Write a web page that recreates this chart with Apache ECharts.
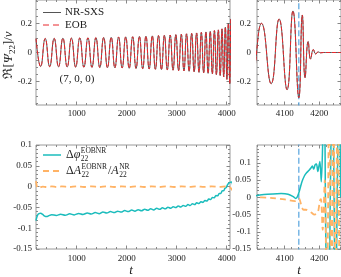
<!DOCTYPE html>
<html><head><meta charset="utf-8">
<script src="https://cdn.jsdelivr.net/npm/echarts@6/dist/echarts.min.js"></script>
<style>html,body{margin:0;padding:0;background:#fff}#c{width:341px;height:277px}</style>
</head><body><div id="c"></div>
<script>
// ---------- data ----------
// waveform Re[Psi22]/nu : times of successive extrema and their values (NR and EOB overlap)
const waveT = [187,279,370,460,549,637,724,810,895,979,1062,1144,1225,1305,1384,1462,1539,1615,1690,1764,
  1837,1909,1980,2050,2119,2187,2254,2320,2385,2449,2512,2574,2635,2695,2754,2812,2870,2927,2983,3038,
  3092,3145,3197,3248,3299,3349,3398,3446,3493,3539,3584,3628,3671,3713,3754,3794,3833,3870,3906,3940,
  3973,4004,4033,4061,4084,4107,4124,4141,4151,4159,4168,4175,4183,4190,4197,4204,4212,4235,4270];
const waveNR = [0.095,-0.096,0.096,-0.097,0.097,-0.098,0.098,-0.099,0.099,-0.100,0.100,-0.101,0.101,-0.102,0.102,-0.103,0.103,-0.104,0.104,-0.105,
  0.106,-0.106,0.107,-0.108,0.108,-0.109,0.110,-0.111,0.112,-0.113,0.114,-0.115,0.116,-0.117,0.118,-0.119,0.120,-0.121,0.122,-0.124,
  0.125,-0.126,0.128,-0.129,0.131,-0.132,0.134,-0.136,0.138,-0.139,0.141,-0.143,0.145,-0.147,0.150,-0.152,0.155,-0.158,0.162,-0.167,
  0.174,-0.184,0.200,-0.214,0.230,-0.255,0.285,-0.310,0.257,-0.172,0.075,-0.045,0.020,-0.010,0.004,-0.002,0,0,0];
const waveEOB = [0.095,-0.096,0.096,-0.097,0.097,-0.098,0.098,-0.099,0.099,-0.100,0.100,-0.101,0.101,-0.102,0.102,-0.103,0.103,-0.104,0.104,-0.105,
  0.106,-0.106,0.107,-0.108,0.108,-0.109,0.110,-0.111,0.112,-0.113,0.114,-0.115,0.116,-0.117,0.118,-0.119,0.120,-0.121,0.122,-0.124,
  0.125,-0.126,0.128,-0.129,0.131,-0.132,0.134,-0.136,0.138,-0.139,0.141,-0.143,0.145,-0.147,0.150,-0.152,0.155,-0.158,0.162,-0.167,
  0.174,-0.184,0.200,-0.214,0.230,-0.255,0.285,-0.310,0.257,-0.172,0.075,-0.045,0.020,-0.010,0.004,-0.002,0,0,0];
// phase difference
const dphiT = [186,195,215,245,280,320,360,400,440,500,590,680,770,860,950,1040,1125,1210,1290,1370,1450,1525,1600,1675,1750,1820,1890,1960,
  2030,2100,2165,2230,2295,2360,2420,2480,2540,2600,2660,2715,2770,2825,2880,2930,2980,3030,3080,3130,3180,3225,3270,3315,3360,3400,
  3445,3485,3525,3565,3605,3640,3680,3715,3750,3785,3820,3850,3880,3910,3940,3965,3990,4015,4040,4066,4090,4110,4125,4132,4137,4143,
  4150,4157,4164,4170,4176,4180,4184,4188,4192,4196,4199,4202,4206,4210,4214,4220,4227,4232,4238,4243,4247,4252,4257,4262];
const dphiV = [-0.082,-0.077,-0.069,-0.065,-0.064,-0.067,-0.071,-0.072,-0.070,-0.0675,-0.0695,-0.0665,-0.0690,-0.0655,-0.0680,-0.0645,-0.0670,-0.0635,-0.0660,-0.0625,-0.0650,-0.0610,-0.0635,-0.0600,-0.0625,-0.0590,-0.0612,-0.0577,
  -0.0600,-0.0565,-0.0590,-0.0555,-0.0580,-0.0545,-0.0570,-0.0535,-0.0560,-0.0522,-0.0547,-0.0510,-0.0535,-0.0497,-0.0520,-0.0482,-0.0505,-0.0468,-0.0490,-0.0452,-0.0473,-0.0433,-0.0455,-0.0412,-0.0433,-0.0390,
  -0.0408,-0.0362,-0.0380,-0.0332,-0.0348,-0.0298,-0.0312,-0.0260,-0.0270,-0.0215,-0.0222,-0.0165,-0.0165,-0.0105,-0.0100,-0.0040,-0.0025,0.004,0.008,0.010,0.011,0.009,0.002,-0.003,0.002,0.020,
  0.045,0.062,0.072,0.078,0.085,0.091,0.082,0.094,0.097,0.075,0.090,0.104,0.045,0.160,0.400,-0.200,-0.400,0.000,0.400,0.000,-0.400,0.000,0.400,0.000];
// relative amplitude difference
const dAT = [186,195,210,235,270,320,400,500,600,700,850,1000,1150,1300,1450,1600,1750,1900,2050,2200,2350,2500,2650,2800,2950,3100,3250,3400,3550,3700,3850,4000,
  4066,4100,4130,4138,4142,4146,4150,4155,4162,4170,4178,4186,4192,4197,4202,4205,4210,4216,4222,4229,4235,4241,4247,4253,4259];
const dAV = [0.013,0.006,-0.002,-0.004,-0.002,0.000,-0.001,0.0005,-0.001,0.0005,-0.001,0.0005,-0.001,0.0005,-0.001,0.0005,-0.001,0.0005,-0.001,0.0005,-0.001,0.0005,-0.001,0.0005,-0.001,0.0005,-0.0008,0.0005,-0.0008,0.0005,-0.0005,0.0008,
  -0.002,-0.006,-0.011,-0.008,-0.004,-0.015,-0.030,-0.036,-0.036,-0.040,-0.045,-0.050,-0.048,-0.040,-0.010,-0.005,-0.094,0.050,-0.350,0.300,-0.350,0.300,-0.350,0.350,-0.350];
// time of the amplitude peak (vertical marker) and its vertical extent
const peakT = [4141, 4141];
const peakV = [-1, 1];
// tick labels
const xTicksLong = [1000, 2000, 3000, 4000];
const xTicksZoom = [4100, 4200];
const yTicksWave = [-0.2, 0, 0.2];
const yTicksErr = [-0.15, -0.1, -0.05, 0, 0.05, 0.1];

// ---------- styling / layout ----------
const FONT = 'Liberation Serif';
const TXT = '#222', FRAME = '#9a9a9a', TICK = '#888';
const C_NR = '#555555', C_EOB = '#e8282d', C_PHI = '#1bbcbc', C_AMP = '#ffb366', C_PEAK = '#55a3de';

function pairs(t, v) { return t.map((x, i) => [x, v[i]]); }
function minorList(lo, hi, step, majorStep, scale) {
  const out = [];
  for (let k = Math.ceil(lo * scale / step); k * step <= hi * scale; k++) {
    const v = k * step;
    if (v % majorStep !== 0) out.push(v / scale);
  }
  return out;
}
function axes(dim, gi, min, max, majors, minors, margin) {
  const pos = dim === 'x' ? ['bottom', 'top'] : ['left', 'right'];
  const base = { type: 'value', gridIndex: gi, min: min, max: max, splitLine: { show: false },
    axisLine: { show: false, onZero: false } };
  const tick = (vals, len) => ({ show: true, inside: true, length: len, customValues: vals, lineStyle: { color: TICK, width: 1 } });
  return [
    Object.assign({}, base, { position: pos[0], axisTick: tick(majors, 3.5),
      axisLabel: { show: true, customValues: majors, margin: margin, fontFamily: FONT, fontSize: 9, color: TXT,
        formatter: v => String(v) } }),
    Object.assign({}, base, { position: pos[1], axisTick: tick(majors, 3.5), axisLabel: { show: false } }),
    Object.assign({}, base, { position: pos[0], axisTick: tick(minors, 2), axisLabel: { show: false } }),
    Object.assign({}, base, { position: pos[1], axisTick: tick(minors, 2), axisLabel: { show: false } })
  ];
}
const X = [[186, 4066], [4020, 4263], [186, 4066], [4020, 4263]];
const Y = [[-0.36, 0.36], [-0.36, 0.36], [-0.15, 0.1], [-0.15, 0.152]];
const xAxis = [].concat(
  axes('x', 0, X[0][0], X[0][1], xTicksLong, minorList(X[0][0], X[0][1], 200, 1000, 1), 4),
  axes('x', 1, X[1][0], X[1][1], xTicksZoom, minorList(X[1][0], X[1][1], 20, 100, 1), 4),
  axes('x', 2, X[2][0], X[2][1], xTicksLong, minorList(X[2][0], X[2][1], 200, 1000, 1), 5),
  axes('x', 3, X[3][0], X[3][1], xTicksZoom, minorList(X[3][0], X[3][1], 20, 100, 1), 5));
const yAxis = [].concat(
  axes('y', 0, Y[0][0], Y[0][1], yTicksWave, minorList(Y[0][0], Y[0][1], 5, 20, 100), 4),
  axes('y', 1, Y[1][0], Y[1][1], yTicksWave, minorList(Y[1][0], Y[1][1], 5, 20, 100), 6),
  axes('y', 2, Y[2][0], Y[2][1], yTicksErr, minorList(Y[2][0], Y[2][1], 1, 5, 100), 4),
  axes('y', 3, Y[3][0], Y[3][1], yTicksErr, minorList(Y[3][0], Y[3][1], 1, 5, 100), 6));

const grid = [
  { left: 36, top: 0, width: 194, height: 105 },
  { left: 257, top: 0, width: 85, height: 105 },
  { left: 36, top: 145, width: 194, height: 104 },
  { left: 257, top: 145, width: 85, height: 104 }
].map(g => Object.assign(g, { show: true, borderColor: FRAME, borderWidth: 1, backgroundColor: 'transparent' }));

function line(name, gi, data, color, width, dash, smooth, z) {
  return { type: 'line', name: name, xAxisIndex: gi * 4, yAxisIndex: gi * 4, data: data, color: color,
    symbol: 'none', showSymbol: false, smooth: smooth, clip: true, animation: false, z: z || 2,
    emphasis: { disabled: true },
    lineStyle: { color: color, width: width, type: dash || 'solid', opacity: 1 } };
}
const series = [];
series.push(line('peak', 1, pairs(peakT, peakV), C_PEAK, 1.2, [6, 3], false, 1));
[0, 1].forEach(g => {
  series.push(line('NR-SXS', g, pairs(waveT, waveNR), C_NR, 1, null, 0.5));
  series.push(line('EOB', g, pairs(waveT, waveEOB), C_EOB, 1, [4, 2], 0.5));
});
series.push(line('peak2', 3, pairs(peakT, peakV), C_PEAK, 1.2, [6, 3], false, 1));
[2, 3].forEach(g => {
  series.push(line('dphi', g, pairs(dphiT, dphiV), C_PHI, 1.5, null, 0.3));
  series.push(line('dA', g, pairs(dAT, dAV), C_AMP, 1.8, [6, 4], 0.3));
});

// ---------- text helpers (legends with stacked scripts) ----------
const ctx = document.createElement('canvas').getContext('2d');
function tw(s, size, it) { ctx.font = (it ? 'italic ' : '') + size + 'px "' + FONT + '"'; return ctx.measureText(s).width; }
function txt(x, y, s, size, it, align) {
  return { type: 'text', x: x, y: y, silent: true,
    style: { text: s, fontFamily: FONT, fontSize: size, fontStyle: it ? 'italic' : 'normal', fill: TXT,
      align: align || 'left', verticalAlign: 'middle' } };
}
function mathRow(x, y, parts) {
  const els = [];
  parts.forEach(p => {
    if (p.t) { els.push(txt(x, y, p.t, 12, p.it)); x += tw(p.t, 12, p.it); }
    else {
      els.push(txt(x + 0.5, y - 3.5, p.sup, 7.5, false));
      els.push(txt(x + 0.5, y + 3.8, p.sub, 7.5, false));
      x += Math.max(tw(p.sup, 7.5), tw(p.sub, 7.5)) + 1.5;
    }
  });
  return els;
}
function sample(y, color, width, dash) {
  return { type: 'line', silent: true, shape: { x1: 43, y1: y, x2: 61, y2: y },
    style: { stroke: color, lineWidth: width, lineDash: dash || null } };
}
const graphic = [
  { type: 'text', x: 9, y: 55, rotation: Math.PI / 2, silent: true,
    style: { text: '{r|ℜ[}{i|Ψ}{s|22}{r|]/}{i|ν}', align: 'center', verticalAlign: 'middle', fill: TXT,
      rich: { r: { fontFamily: FONT, fontSize: 13, lineHeight: 16, verticalAlign: 'middle' },
              i: { fontFamily: FONT, fontSize: 13, fontStyle: 'italic', lineHeight: 16, verticalAlign: 'middle' },
              s: { fontFamily: FONT, fontSize: 9, lineHeight: 9, verticalAlign: 'bottom' } } } },
  sample(12.5, C_NR, 1), txt(65, 12.5, 'NR-SXS', 11),
  sample(25, C_EOB, 1, [6, 4]), txt(65, 25, 'EOB', 11),
  txt(77, 79, '(7, 0, 0)', 11, false, 'center'),
  sample(155, C_PHI, 1.5),
  sample(171, C_AMP, 1.8, [6, 4]),
  txt(131, 271, 't', 13, true, 'center'),
  txt(299, 271, 't', 13, true, 'center')
].concat(
  mathRow(66, 155, [{ t: 'Δ' }, { t: 'φ', it: true }, { sup: 'EOBNR', sub: '22' }]),
  mathRow(66, 171, [{ t: 'Δ' }, { t: 'A', it: true }, { sup: 'EOBNR', sub: '22' }, { t: '/' }, { t: 'A', it: true }, { sup: 'NR', sub: '22' }])
);

const chart = echarts.init(document.getElementById('c'), null, { renderer: 'canvas' });
chart.setOption({ animation: false, backgroundColor: '#fff', grid: grid, xAxis: xAxis, yAxis: yAxis, series: series, graphic: graphic });
</script></body></html>
